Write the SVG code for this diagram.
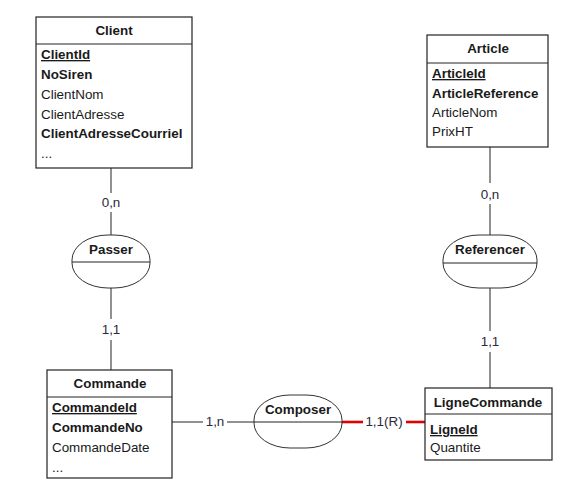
<svg xmlns="http://www.w3.org/2000/svg" width="580" height="491" viewBox="0 0 580 491">
<style>
text{font-family:"Liberation Sans",Arial,sans-serif;font-size:13.4px;fill:#1a1a1a}
.b{font-weight:bold}
.u{font-weight:bold;text-decoration:underline}
.t{font-weight:bold;text-anchor:middle}
.c{text-anchor:middle;fill:#2a2a3a}
.box{fill:#fff;stroke:#222;stroke-width:1.2}
.sep{stroke:#222;stroke-width:1}
.rel{fill:#fff;stroke:#333;stroke-width:1}
.ln{stroke:#555;stroke-width:1.3;fill:none}
.red{stroke:#e00000;stroke-width:2.6;fill:none}
</style>
<rect width="580" height="491" fill="#fff"/>
<g id="connectors">
<line class="ln" x1="111" y1="168" x2="111" y2="193"/>
<line class="ln" x1="111" y1="212" x2="111" y2="235"/>
<line class="ln" x1="111" y1="288" x2="111" y2="319"/>
<line class="ln" x1="111" y1="340" x2="111" y2="370"/>
<line class="ln" x1="490" y1="147" x2="490" y2="183"/>
<line class="ln" x1="490" y1="204" x2="490" y2="235"/>
<line class="ln" x1="490" y1="288" x2="490" y2="331"/>
<line class="ln" x1="490" y1="352" x2="490" y2="388"/>
<line class="ln" x1="172" y1="422" x2="203" y2="422"/>
<line class="ln" x1="227" y1="422" x2="254" y2="422"/>
<line class="red" x1="342" y1="422" x2="363" y2="422"/>
<line class="red" x1="406" y1="422" x2="425" y2="422"/>
<text class="c" x="111" y="207">0,n</text>
<text class="c" x="111" y="334">1,1</text>
<text class="c" x="490" y="199">0,n</text>
<text class="c" x="490" y="346">1,1</text>
<text class="c" x="215" y="426">1,n</text>
<text class="c" x="384" y="426">1,1(R)</text>
</g>
<g id="Client">
<rect class="box" x="36" y="17" width="156" height="151"/>
<line class="sep" x1="36" y1="44" x2="192" y2="44"/>
<text class="t" x="114" y="35">Client</text>
<text class="u" x="41" y="59">ClientId</text>
<text class="b" x="41" y="79">NoSiren</text>
<text x="41" y="99">ClientNom</text>
<text x="41" y="119">ClientAdresse</text>
<text class="b" x="41" y="138">ClientAdresseCourriel</text>
<text x="41" y="158">...</text>
</g>
<g id="Article">
<rect class="box" x="427" y="35" width="121" height="112"/>
<line class="sep" x1="427" y1="63" x2="548" y2="63"/>
<text class="t" x="488" y="53">Article</text>
<text class="u" x="432" y="78">ArticleId</text>
<text class="b" x="432" y="98">ArticleReference</text>
<text x="432" y="117">ArticleNom</text>
<text x="432" y="136">PrixHT</text>
</g>
<g id="Passer">
<rect class="rel" x="72" y="235" width="78" height="53" rx="36" ry="25"/>
<line class="sep" x1="72" y1="262" x2="150" y2="262"/>
<text class="t" x="111" y="254">Passer</text>
</g>
<g id="Referencer">
<rect class="rel" x="443" y="235" width="94" height="53" rx="36" ry="25"/>
<line class="sep" x1="443" y1="263" x2="537" y2="263"/>
<text class="t" x="490" y="254">Referencer</text>
</g>
<g id="Commande">
<rect class="box" x="47" y="370" width="125" height="108"/>
<line class="sep" x1="47" y1="397" x2="172" y2="397"/>
<text class="t" x="110" y="388">Commande</text>
<text class="u" x="52" y="412">CommandeId</text>
<text class="b" x="52" y="432">CommandeNo</text>
<text x="52" y="452">CommandeDate</text>
<text x="52" y="472">...</text>
</g>
<g id="Composer">
<rect class="rel" x="254" y="395" width="88" height="53" rx="36" ry="25"/>
<line class="sep" x1="254" y1="422" x2="342" y2="422"/>
<text class="t" x="298" y="414">Composer</text>
</g>
<g id="LigneCommande">
<rect class="box" x="425" y="388" width="127" height="72"/>
<line class="sep" x1="425" y1="414" x2="552" y2="414"/>
<text class="t" x="488" y="407">LigneCommande</text>
<text class="u" x="430" y="434">LigneId</text>
<text x="430" y="452">Quantite</text>
</g>
</svg>
